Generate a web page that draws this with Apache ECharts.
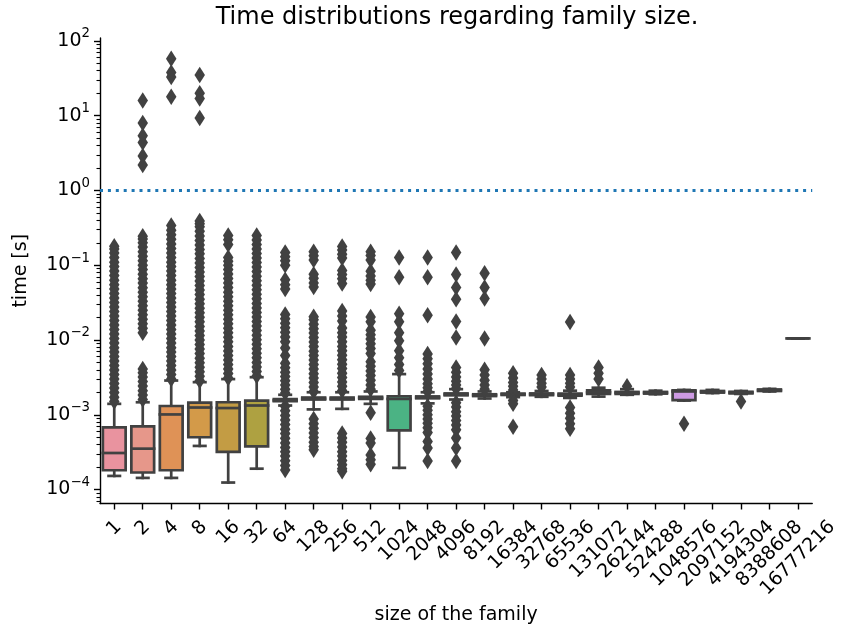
<!DOCTYPE html>
<html><head><meta charset="utf-8">
<script src="https://cdn.jsdelivr.net/npm/echarts@6/dist/echarts.min.js"></script>
<style>html,body{margin:0;padding:0;background:#fff}#c{width:841px;height:630px}</style>
</head><body><div id="c"></div>
<script>
const categories = ['1','2','4','8','16','32','64','128','256','512','1024','2048','4096','8192','16384','32768','65536','131072','262144','524288','1048576','2097152','4194304','8388608','16777216'];
const whiskerLow  = [1.52e-4,1.43e-4,1.43e-4,3.83e-4,1.24e-4,1.9e-4,1.33e-3,1.18e-3,1.2e-3,1.4e-3,1.95e-4,1.42e-3,1.6e-3,1.65e-3,1.72e-3,1.74e-3,1.68e-3,1.75e-3,1.85e-3,1.88e-3,1.55e-3,1.95e-3,1.9e-3,2.05e-3,0.0105];
const quart1      = [1.81e-4,1.69e-4,1.81e-4,5.0e-4,3.18e-4,3.78e-4,1.52e-3,1.6e-3,1.6e-3,1.63e-3,6.18e-4,1.66e-3,1.82e-3,1.78e-3,1.84e-3,1.83e-3,1.8e-3,1.9e-3,1.9e-3,1.92e-3,1.57e-3,1.98e-3,1.93e-3,2.08e-3,0.0105];
const median      = [3.08e-4,3.52e-4,1.01e-3,1.25e-3,1.23e-3,1.33e-3,1.56e-3,1.64e-3,1.64e-3,1.68e-3,1.63e-3,1.7e-3,1.87e-3,1.83e-3,1.88e-3,1.88e-3,1.86e-3,2.0e-3,1.97e-3,1.97e-3,2.05e-3,2.03e-3,1.98e-3,2.13e-3,0.0105];
const quart3      = [6.77e-4,6.98e-4,1.31e-3,1.45e-3,1.47e-3,1.55e-3,1.62e-3,1.7e-3,1.7e-3,1.74e-3,1.77e-3,1.76e-3,1.93e-3,1.88e-3,1.92e-3,1.93e-3,1.92e-3,2.12e-3,2.02e-3,2.02e-3,2.12e-3,2.08e-3,2.03e-3,2.18e-3,0.0105];
const whiskerHigh = [1.40e-3,1.47e-3,2.87e-3,2.73e-3,3.0e-3,3.18e-3,1.85e-3,2.0e-3,2.0e-3,2.05e-3,3.5e-3,2.0e-3,2.2e-3,2.05e-3,2.0e-3,2.08e-3,2.1e-3,2.3e-3,2.2e-3,2.1e-3,2.15e-3,2.15e-3,2.08e-3,2.22e-3,0.0105];
const outliers = [
 [1.5e-3,1.72e-3,1.98e-3,2.28e-3,2.62e-3,3.0e-3,3.45e-3,3.97e-3,4.56e-3,5.25e-3,6.0e-3,6.9e-3,7.9e-3,9.1e-3,0.0105,0.012,0.0138,0.0159,0.0182,0.021,0.024,0.0276,0.0318,0.0365,0.042,0.048,0.055,0.063,0.073,0.084,0.096,0.11,0.127,0.146,0.165,0.18],
 [1.6e-3,1.84e-3,2.1e-3,2.42e-3,2.78e-3,3.2e-3,3.65e-3,4.1e-3,0.0125,0.0144,0.0165,0.019,0.0218,0.025,0.0288,0.033,0.038,0.0437,0.05,0.0577,0.066,0.076,0.0875,0.1,0.115,0.132,0.152,0.175,0.2,0.225,0.245,2.2,2.9,4.4,5.4,8.0,16],
 [3.0e-3,3.45e-3,3.97e-3,4.56e-3,5.25e-3,6.0e-3,6.9e-3,7.9e-3,9.1e-3,0.0105,0.012,0.0138,0.0159,0.0182,0.021,0.024,0.0276,0.0318,0.0365,0.042,0.048,0.055,0.063,0.073,0.084,0.096,0.11,0.127,0.146,0.168,0.193,0.222,0.255,0.293,0.34,18,33,38,58],
 [2.85e-3,3.28e-3,3.77e-3,4.33e-3,4.98e-3,5.7e-3,6.6e-3,7.6e-3,8.7e-3,0.01,0.0115,0.0132,0.0152,0.0175,0.0201,0.0231,0.0266,0.0306,0.0352,0.0405,0.0465,0.0535,0.0615,0.0707,0.081,0.093,0.107,0.123,0.142,0.163,0.187,0.215,0.247,0.284,0.327,0.36,0.39,9.3,17,20,35],
 [3.1e-3,3.56e-3,4.1e-3,4.7e-3,5.4e-3,6.2e-3,7.15e-3,8.2e-3,9.45e-3,0.0109,0.0125,0.0144,0.0165,0.019,0.0218,0.025,0.0288,0.0331,0.038,0.0437,0.0503,0.0578,0.0665,0.0765,0.088,0.1,0.113,0.127,0.19,0.22,0.25],
 [3.3e-3,3.8e-3,4.37e-3,5.0e-3,5.78e-3,6.65e-3,7.65e-3,8.8e-3,0.0101,0.0116,0.0134,0.0154,0.0177,0.0203,0.0234,0.0269,0.0309,0.0356,0.0409,0.047,0.0541,0.0622,0.0715,0.0822,0.0946,0.109,0.125,0.144,0.165,0.19,0.218,0.25],
 [0.048,0.055,0.064,0.1,0.115,0.13,0.148,1.95e-3,2.2e-3,2.5e-3,2.85e-3,3.25e-3,3.7e-3,4.25e-3,4.9e-3,6.2e-3,7.8e-3,9.5e-3,0.011,0.0127,0.0146,0.0168,0.0193,0.022,1.3e-3,1.13e-3,9.8e-4,8.5e-4,7.4e-4,6.4e-4,5.6e-4,4.85e-4,4.2e-4,3.65e-4,3.2e-4,2.8e-4,2.42e-4,2.1e-4,1.82e-4],
 [0.051,0.058,0.067,0.076,0.118,0.134,0.152,2.05e-3,2.35e-3,2.7e-3,3.1e-3,3.55e-3,4.1e-3,4.7e-3,5.4e-3,6.2e-3,7.1e-3,8.2e-3,9.4e-3,0.0108,0.0124,0.0142,0.0163,0.0187,0.0205,8.8e-4,7.6e-4,6.6e-4,5.7e-4,4.95e-4,4.3e-4,3.75e-4,3.4e-4],
 [0.057,0.066,0.075,0.085,0.125,0.14,0.16,0.178,2.1e-3,2.4e-3,2.75e-3,3.15e-3,3.6e-3,4.15e-3,4.75e-3,5.45e-3,6.25e-3,7.2e-3,8.2e-3,9.5e-3,0.011,0.0125,0.0145,0.018,0.021,0.0244,5.6e-4,4.9e-4,4.3e-4,3.7e-4,3.2e-4,2.8e-4,2.45e-4,2.15e-4,1.9e-4,1.75e-4],
 [0.056,0.063,0.072,0.083,0.118,0.135,0.152,2.2e-3,2.5e-3,2.9e-3,3.35e-3,3.85e-3,4.45e-3,5.1e-3,6.6e-3,7.7e-3,8.9e-3,0.0103,0.0118,0.0135,0.0175,0.0203,1.06e-3,4.8e-4,4.2e-4,2.9e-4,2.5e-4,2.18e-4],
 [0.127,0.069,0.0225,0.0175,0.0125,0.0098,0.0072,0.0058,0.0047,0.0039],
 [0.127,0.069,0.0215,6.5e-3,5.6e-3,4.8e-3,4.1e-3,3.5e-3,3.0e-3,2.6e-3,2.3e-3,2.05e-3,1.3e-3,1.15e-3,1.0e-3,8.8e-4,7.7e-4,6.7e-4,5.8e-4,4.4e-4,3.6e-4,2.4e-4],
 [0.148,0.0752,0.0505,0.035,0.0177,0.0108,4.3e-3,3.7e-3,3.2e-3,2.8e-3,2.5e-3,2.25e-3,1.45e-3,1.27e-3,1.1e-3,9.6e-4,8.4e-4,7.3e-4,6.3e-4,4.9e-4,3.6e-4,2.4e-4],
 [0.078,0.0505,0.036,0.0105,4.0e-3,3.4e-3,2.9e-3,2.5e-3,2.2e-3],
 [3.6e-3,3.1e-3,2.7e-3,2.4e-3,2.15e-3,1.55e-3,1.4e-3,6.9e-4],
 [3.4e-3,3.0e-3,2.65e-3,2.35e-3],
 [0.0174,3.4e-3,3.0e-3,2.65e-3,2.35e-3,1.25e-3,1.05e-3,9e-4,7.6e-4,6.5e-4],
 [4.3e-3,3.6e-3,3.0e-3],
 [2.4e-3],
 [],
 [7.6e-4],
 [],
 [1.5e-3],
 [],
 []
];
const boxColors = ['#e9939f','#e6978a','#df9256','#d39a49','#c39c44','#aea141','#98a63f','#7dac3f','#51b247','#4db36f','#4bb384','#4cb295','#4db1a4','#4fb0b3','#52afc3','#58acd6','#74a5e6','#959ee8','#ae96e6','#c193e5','#cd9ae3','#d791d3','#e08ec4','#e58fb5','#e891a8'];
const yTickExponents = [-4,-3,-2,-1,0,1,2];
const minorMultipliers = [2,3,4,5,6,7,8,9];
const thresholdValue = 1;
const yMinExp = -4.187, yMaxExp = 2.04;

const FONT = 'DejaVu Sans';
const GRAY = '#414141';
const LABEL_SIZE = 19;
const lg = Math.log10;

const boxData = categories.map((c, i) => [i, lg(whiskerLow[i]), lg(quart1[i]), lg(median[i]), lg(quart3[i]), lg(whiskerHigh[i])]);
const flierData = [];
outliers.forEach((arr, i) => arr.forEach(v => flierData.push([i, lg(v)])));

const minorTicks = [];
for (let n = -5; n <= 2; n++) minorMultipliers.forEach(k => { const t = n + lg(k); if (t > yMinExp && t < yMaxExp) minorTicks.push(t); });

const ctx = document.createElement('canvas').getContext('2d');
ctx.font = LABEL_SIZE + 'px "' + FONT + '"';
const xRich = {};
categories.forEach((c, i) => {
  const w = ctx.measureText(c).width;
  const p = 0.5 * (w + 22);
  xRich['t' + i] = {fontSize: LABEL_SIZE, fontFamily: FONT, color: '#000', padding: [p, p, 0, 0]};
});

const chart = echarts.init(document.getElementById('c'), null, {renderer: 'canvas'});
chart.setOption({
  animation: false,
  backgroundColor: '#fff',
  title: {text: 'Time distributions regarding family size.', left: 452, top: 1, textAlign: 'center',
    textStyle: {fontFamily: FONT, fontSize: 24, fontWeight: 'normal', color: '#000'}},
  grid: {left: 100, right: 28.5, top: 38, bottom: 125},
  xAxis: {
    type: 'category', data: categories, boundaryGap: true,
    axisLine: {show: true, onZero: false, lineStyle: {color: '#000', width: 1.4}},
    axisTick: {show: true, alignWithLabel: true, length: 6, lineStyle: {color: '#000', width: 1.4}},
    axisLabel: {interval: 0, rotate: 45, align: 'center', verticalAlign: 'middle', margin: 12.6,
      formatter: (v, i) => '{t' + i + '|' + v + '}', rich: xRich},
    splitLine: {show: false},
    name: 'size of the family', nameLocation: 'middle', nameGap: 92,
    nameTextStyle: {fontFamily: FONT, fontSize: LABEL_SIZE, color: '#000'}
  },
  yAxis: [{
    type: 'value', min: yMinExp, max: yMaxExp, position: 'left',
    axisLine: {show: true, onZero: false, lineStyle: {color: '#000', width: 1.4}},
    axisTick: {show: true, length: 6, lineStyle: {color: '#000', width: 1.4}, customValues: yTickExponents},
    axisLabel: {margin: 10, customValues: yTickExponents,
      formatter: v => { const e = Math.round(v); return '{b|10}{s|' + (e < 0 ? '\u2212' + (-e) : e) + '}'; },
      rich: {b: {fontFamily: FONT, fontSize: LABEL_SIZE, lineHeight: 27, color: '#000'},
             s: {fontFamily: FONT, fontSize: 13.3, lineHeight: 13, verticalAlign: 'top', color: '#000'}}},
    splitLine: {show: false},
    name: 'time [s]', nameLocation: 'middle', nameGap: 69, nameRotate: 90,
    nameTextStyle: {fontFamily: FONT, fontSize: LABEL_SIZE, color: '#000'}
  }, {
    type: 'value', min: yMinExp, max: yMaxExp, position: 'left',
    axisLine: {show: false, onZero: false},
    axisTick: {show: true, length: 3.5, lineStyle: {color: '#000', width: 1.1}, customValues: minorTicks},
    axisLabel: {show: false},
    splitLine: {show: false}
  }],
  series: [{
    type: 'custom', name: 'box', xAxisIndex: 0, yAxisIndex: 0, z: 2,
    encode: {x: 0, y: [1, 2, 3, 4, 5]},
    data: boxData,
    renderItem: function (params, api) {
      const i = api.value(0);
      const pLo = api.coord([i, api.value(1)]);
      const pQ1 = api.coord([i, api.value(2)]);
      const pMed = api.coord([i, api.value(3)]);
      const pQ3 = api.coord([i, api.value(4)]);
      const pHi = api.coord([i, api.value(5)]);
      const band = api.size([1, 0])[0];
      const bw = band * 0.8, cw = bw * 0.5, cx = pMed[0];
      const ls = {stroke: GRAY, lineWidth: 2.7, lineCap: 'square', fill: null};
      return {type: 'group', children: [
        {type: 'line', shape: {x1: cx, y1: pQ1[1], x2: cx, y2: pLo[1]}, style: ls},
        {type: 'line', shape: {x1: cx, y1: pQ3[1], x2: cx, y2: pHi[1]}, style: ls},
        {type: 'line', shape: {x1: cx - cw / 2, y1: pLo[1], x2: cx + cw / 2, y2: pLo[1]}, style: ls},
        {type: 'line', shape: {x1: cx - cw / 2, y1: pHi[1], x2: cx + cw / 2, y2: pHi[1]}, style: ls},
        {type: 'rect', shape: {x: cx - bw / 2, y: pQ3[1], width: bw, height: pQ1[1] - pQ3[1]},
          style: {fill: boxColors[i], stroke: GRAY, lineWidth: 2.7}},
        {type: 'line', shape: {x1: cx - bw / 2, y1: pMed[1], x2: cx + bw / 2, y2: pMed[1]}, style: ls}
      ]};
    }
  }, {
    type: 'scatter', name: 'outliers', xAxisIndex: 0, yAxisIndex: 0, z: 3,
    data: flierData, symbol: 'diamond', symbolSize: [10.5, 16.5],
    itemStyle: {color: GRAY, opacity: 1},
    markLine: {silent: true, symbol: ['none', 'none'], label: {show: false},
      lineStyle: {color: '#1f77b4', width: 3, type: [3, 4.9], opacity: 1},
      emphasis: {disabled: true},
      data: [{yAxis: lg(thresholdValue)}]}
  }]
});
</script></body></html>
